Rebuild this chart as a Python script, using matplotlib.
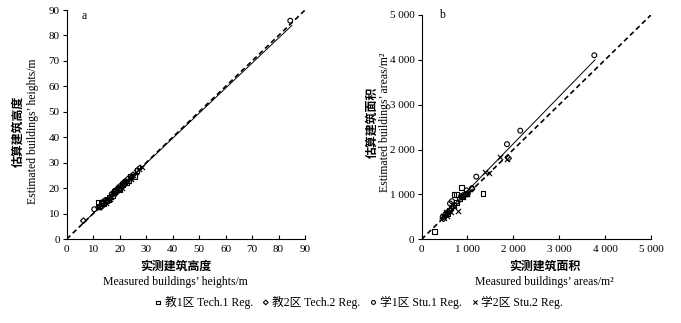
import numpy as np
import matplotlib
matplotlib.use("Agg")
import matplotlib.pyplot as plt
from matplotlib.ticker import FuncFormatter, MultipleLocator

plt.rcParams['font.family'] = ['Liberation Serif', 'Noto Sans CJK SC']
plt.rcParams['font.size'] = 8

# panel a: building heights (m)
h_tech1_x = [11.9, 12.5, 13.5, 14.0, 15.2, 16.0, 17.5, 18.5, 20.0, 21.0, 22.5, 24.0, 25.8, 26.5,
             13.0, 15.8, 18.0, 19.4, 21.8, 23.2]
h_tech1_y = [14.3, 13.0, 14.5, 13.8, 15.0, 16.5, 17.2, 19.0, 19.5, 21.5, 22.0, 24.5, 24.5, 27.0,
             14.2, 15.4, 18.6, 20.0, 22.4, 22.8]
h_tech2_x = [6.3, 13.0, 14.5, 16.5, 18.0, 19.5, 21.5, 23.0, 25.0, 27.5, 15.5, 17.2, 20.2, 22.2]
h_tech2_y = [7.2, 12.5, 15.2, 16.0, 18.5, 20.2, 21.0, 23.5, 25.2, 27.8, 15.0, 17.8, 19.8, 22.0]
h_stu1_x = [10.4, 12.0, 15.0, 17.0, 19.0, 20.5, 22.0, 24.5, 14.0, 18.2, 21.2, 84.4]
h_stu1_y = [11.7, 12.4, 14.6, 17.6, 18.6, 21.0, 22.6, 24.0, 14.8, 17.8, 21.8, 85.8]
h_stu2_x = [13.2, 14.8, 16.2, 17.8, 19.2, 20.8, 22.8, 24.2, 26.0, 27.2, 28.5, 16.8, 19.8, 23.8, 25.2]
h_stu2_y = [13.6, 14.2, 15.6, 18.2, 19.8, 20.2, 23.2, 23.6, 26.4, 27.5, 28.3, 16.4, 20.6, 24.2, 25.0]
h_fit = (0.985, 0.2)
h_fit_range = (6, 85)

# panel b: building areas (m2)
a_tech1_x = [280, 706, 865, 1338, 760, 640, 600, 820, 700, 560, 760, 900]
a_tech1_y = [170, 1003, 1159, 1025, 820, 700, 640, 900, 760, 580, 1000, 950]
a_tech2_x = [1896, 1000, 520, 480, 620, 900, 960, 560, 1100, 680]
a_tech2_y = [1806, 1020, 520, 460, 650, 980, 1000, 600, 1120, 720]
a_stu1_x = [3764, 2151, 1861, 1192, 1098, 980, 660, 620, 520, 460, 860, 1000]
a_stu1_y = [4100, 2421, 2120, 1396, 1137, 1090, 850, 800, 560, 500, 960, 1000]
a_stu2_x = [785, 1388, 1460, 1700, 1860, 500, 560, 640, 540, 900, 980, 460]
a_stu2_y = [631, 1507, 1471, 1830, 1800, 480, 520, 620, 620, 940, 1020, 520]
a_fit = (1.05, 30)
a_fit_range = (400, 3780)

groups = ['教1区 Tech.1 Reg.', '教2区 Tech.2 Reg.', '学1区 Stu.1 Reg.', '学2区 Stu.2 Reg.']
markers = ['s', 'D', 'o', 'x']
msizes = [12, 9, 12, 14]

fig = plt.figure(figsize=(6.81, 3.23), dpi=100)
ax1 = fig.add_axes([0.098, 0.26, 0.350, 0.709])
ax2 = fig.add_axes([0.619, 0.259, 0.337, 0.695])


def draw(ax, xs, ys, fit, frange, vmax):
    for x, y, m, s, lab in zip(xs, ys, markers, msizes, groups):
        if m == 'x':
            ax.scatter(x, y, marker=m, s=s, c='black', linewidths=0.8, label=lab, zorder=3)
        else:
            ax.scatter(x, y, marker=m, s=s, facecolors='none', edgecolors='black',
                       linewidths=0.8, label=lab, zorder=3)
    ax.plot([0, vmax], [0, vmax], ls=(0, (3, 2)), color='black', lw=1.2, zorder=2)
    fx = np.array(frange)
    ax.plot(fx, fit[0] * fx + fit[1], color='black', lw=0.7, zorder=2)
    ax.set_xlim(0, vmax)
    ax.set_ylim(0, vmax)
    for sp in ['top', 'right']:
        ax.spines[sp].set_visible(False)
    ax.spines['left'].set_linewidth(0.8)
    ax.spines['bottom'].set_linewidth(0.8)
    ax.tick_params(axis='x', direction='in', length=3, width=0.8, pad=4, labelsize=8)
    ax.tick_params(axis='y', direction='out', length=3, width=0.8, pad=2, labelsize=8)


draw(ax1, [h_tech1_x, h_tech2_x, h_stu1_x, h_stu2_x],
     [h_tech1_y, h_tech2_y, h_stu1_y, h_stu2_y], h_fit, h_fit_range, 90)
ax1.xaxis.set_major_locator(MultipleLocator(10))
ax1.yaxis.set_major_locator(MultipleLocator(10))
ax1.text(0.063, 0.975, 'a', transform=ax1.transAxes, fontsize=8.5, va='center')

draw(ax2, [a_tech1_x, a_tech2_x, a_stu1_x, a_stu2_x],
     [a_tech1_y, a_tech2_y, a_stu1_y, a_stu2_y], a_fit, a_fit_range, 5000)
ax2.xaxis.set_major_locator(MultipleLocator(1000))
ax2.yaxis.set_major_locator(MultipleLocator(1000))
fmt = FuncFormatter(lambda v, p: f"{int(v):,}".replace(',', ' '))
ax2.xaxis.set_major_formatter(fmt)
ax2.yaxis.set_major_formatter(fmt)
ax2.text(0.077, 1.0, 'b', transform=ax2.transAxes, fontsize=8.5, va='center')

# axis titles
fig.text(0.258, 0.173, '实测建筑高度', ha='center', va='center', fontsize=8.6, fontweight='bold')
fig.text(0.257, 0.127, 'Measured buildings’ heights/m', ha='center', va='center', fontsize=8.5)
fig.text(0.027, 0.594, '估算建筑高度', ha='center', va='center', rotation=90, fontsize=8.6, fontweight='bold')
fig.text(0.048, 0.594, 'Estimated buildings’ heights/m', ha='center', va='center', rotation=90, fontsize=8.5)

fig.text(0.800, 0.173, '实测建筑面积', ha='center', va='center', fontsize=8.6, fontweight='bold')
fig.text(0.800, 0.127, 'Measured buildings’ areas/m²', ha='center', va='center', fontsize=8.5)
fig.text(0.547, 0.622, '估算建筑面积', ha='center', va='center', rotation=90, fontsize=8.6, fontweight='bold')
fig.text(0.566, 0.622, 'Estimated buildings’ areas/m²', ha='center', va='center', rotation=90, fontsize=8.5)

handles, labels = ax1.get_legend_handles_labels()
fig.legend(handles, labels, loc='center', bbox_to_anchor=(0.525, 0.065), ncol=4, frameon=False,
           fontsize=8.5, handletextpad=0.05, columnspacing=0.6, handlelength=1.0, markerscale=0.8)

fig.savefig('out.png', dpi=100, facecolor='white')
